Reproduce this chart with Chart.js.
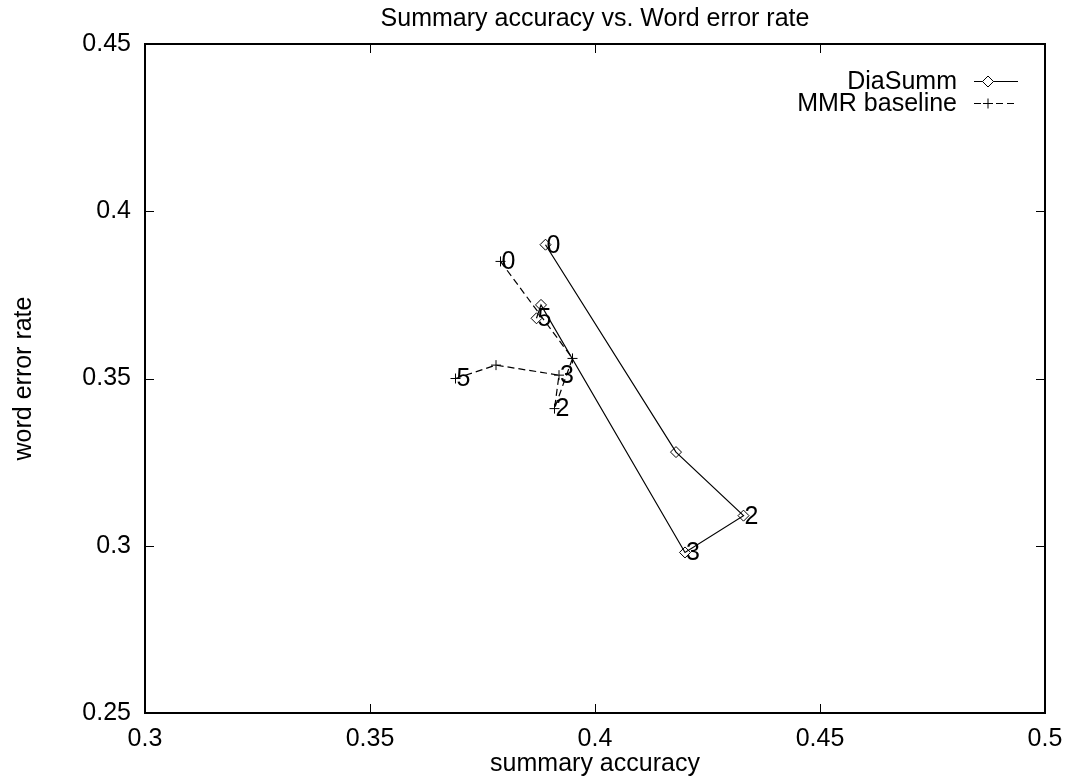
<!DOCTYPE html>
<html>
<head>
<meta charset="utf-8">
<script src="https://cdn.jsdelivr.net/npm/chart.js@4"></script>
<style>
html,body{margin:0;padding:0;background:#fff;}
#wrap{width:1066px;height:779px;}
</style>
</head>
<body>
<div id="wrap"><canvas id="c" width="1066" height="779"></canvas></div>
<script>
const chartTitle = "Summary accuracy vs. Word error rate";
const xTitle = "summary accuracy";
const yTitle = "word error rate";
const seriesNames = ["DiaSumm", "MMR baseline"];

const diaX = [0.389, 0.418, 0.433, 0.420, 0.388, 0.387];
const diaY = [0.390, 0.328, 0.309, 0.298, 0.372, 0.368];
const diaLabels = ["0", "", "2", "3", "", "5"];

const mmrX = [0.379, 0.395, 0.391, 0.392, 0.378, 0.369];
const mmrY = [0.385, 0.356, 0.341, 0.351, 0.354, 0.350];
const mmrLabels = ["0", "", "2", "3", "", "5"];

const xTicks = [0.3, 0.35, 0.4, 0.45, 0.5];
const yTicks = [0.25, 0.3, 0.35, 0.4, 0.45];

const FONT = "'Liberation Sans', Arial, Helvetica, sans-serif";
const FS = 25;

const pts = (xs, ys) => xs.map((x, i) => ({x: x, y: ys[i]}));
const fmt = v => String(+(+v).toFixed(2));

const framePlugin = {
  id: 'frame',
  afterDatasetsDraw(chart) {
    const ctx = chart.ctx;
    const a = chart.chartArea;
    const xs = chart.scales.x, ys = chart.scales.y;
    ctx.save();
    ctx.strokeStyle = '#000';
    ctx.lineWidth = 1;
    const tl = 9;
    ctx.beginPath();
    xTicks.forEach(v => {
      const px = Math.round(xs.getPixelForValue(v)) + 0.5;
      ctx.moveTo(px, a.bottom); ctx.lineTo(px, a.bottom - tl);
      ctx.moveTo(px, a.top); ctx.lineTo(px, a.top + tl);
    });
    yTicks.forEach(v => {
      const py = Math.round(ys.getPixelForValue(v)) + 0.5;
      ctx.moveTo(a.left, py); ctx.lineTo(a.left + tl, py);
      ctx.moveTo(a.right, py); ctx.lineTo(a.right - tl, py);
    });
    ctx.stroke();
    ctx.lineWidth = 2;
    ctx.strokeRect(a.left, a.top, a.right - a.left, a.bottom - a.top);

    // point labels
    ctx.fillStyle = '#000';
    ctx.font = FS + 'px ' + FONT;
    ctx.textAlign = 'left';
    ctx.textBaseline = 'middle';
    const labs = [diaLabels, mmrLabels];
    chart.data.datasets.forEach((ds, di) => {
      const meta = chart.getDatasetMeta(di);
      meta.data.forEach((el, i) => {
        const t = labs[di][i];
        if (t) ctx.fillText(t, el.x + 1, el.y + 1);
      });
    });

    // legend (gnuplot style: text right-aligned, sample to the right)
    const textRight = 957;
    const sx0 = 974, sx1 = 1018, mx = 988;
    const rows = [81, 103];
    chart.data.datasets.forEach((ds, di) => {
      const y = rows[di];
      ctx.textAlign = 'right';
      ctx.fillText(ds.label, textRight, y + 1);
      ctx.beginPath();
      ctx.lineWidth = 1;
      ctx.setLineDash(ds.borderDash || []);
      ctx.moveTo(sx0, y + 0.5); ctx.lineTo(sx1, y + 0.5);
      ctx.stroke();
      ctx.setLineDash([]);
      Chart.helpers.drawPoint(ctx, {pointStyle: ds.pointStyle, radius: ds.pointRadius, borderWidth: 1, rotation: 0}, mx, y + 0.5);
      if (ds.pointStyle === 'rectRot') {
        ctx.fillStyle = '#fff';
        ctx.fill();
        ctx.stroke();
        ctx.fillStyle = '#000';
      }
    });
    ctx.restore();
  }
};

new Chart(document.getElementById('c'), {
  type: 'scatter',
  data: {
    datasets: [
      {
        label: seriesNames[0],
        data: pts(diaX, diaY),
        showLine: true,
        borderColor: '#000',
        backgroundColor: '#fff',
        borderWidth: 1.2,
        pointStyle: 'rectRot',
        pointRadius: 5.5,
        pointBorderWidth: 1,
        pointBackgroundColor: 'rgba(255,255,255,0)',
        tension: 0
      },
      {
        label: seriesNames[1],
        data: pts(mmrX, mmrY),
        showLine: true,
        borderColor: '#000',
        backgroundColor: '#000',
        borderWidth: 1.2,
        borderDash: [7, 4],
        pointStyle: 'cross',
        pointRadius: 5,
        pointBorderWidth: 1,
        tension: 0
      }
    ]
  },
  options: {
    responsive: false,
    animation: false,
    devicePixelRatio: 1,
    layout: {padding: {left: 0, right: 21, top: 0, bottom: 0}},
    plugins: {
      legend: {display: false},
      tooltip: {enabled: false},
      title: {
        display: true,
        text: chartTitle,
        fullSize: false,
        color: '#000',
        font: {family: FONT, size: FS, weight: 'normal'},
        padding: {top: 4, bottom: 10}
      }
    },
    scales: {
      x: {
        type: 'linear',
        min: 0.3, max: 0.5,
        afterBuildTicks: s => { s.ticks = xTicks.map(v => ({value: v})); },
        afterFit: s => { s.height = 66; s.paddingLeft = 0; s.paddingRight = 0; },
        border: {display: false},
        grid: {display: false, drawTicks: false},
        ticks: {color: '#000', font: {family: FONT, size: FS}, padding: 11, maxRotation: 0, autoSkip: false, callback: fmt},
        title: {display: true, text: xTitle, color: '#000', font: {family: FONT, size: FS}, padding: {top: 0, bottom: 0}}
      },
      y: {
        type: 'linear',
        min: 0.25, max: 0.45,
        afterBuildTicks: s => { s.ticks = yTicks.map(v => ({value: v})); },
        afterFit: s => { s.width = 145; s.paddingTop = 0; s.paddingBottom = 0; },
        border: {display: false},
        grid: {display: false, drawTicks: false},
        ticks: {color: '#000', font: {family: FONT, size: FS}, padding: 14, autoSkip: false, callback: fmt},
        title: {display: true, text: yTitle, color: '#000', font: {family: FONT, size: FS}, padding: {top: 9, bottom: 0}}
      }
    }
  },
  plugins: [framePlugin]
});
</script>
</body>
</html>
